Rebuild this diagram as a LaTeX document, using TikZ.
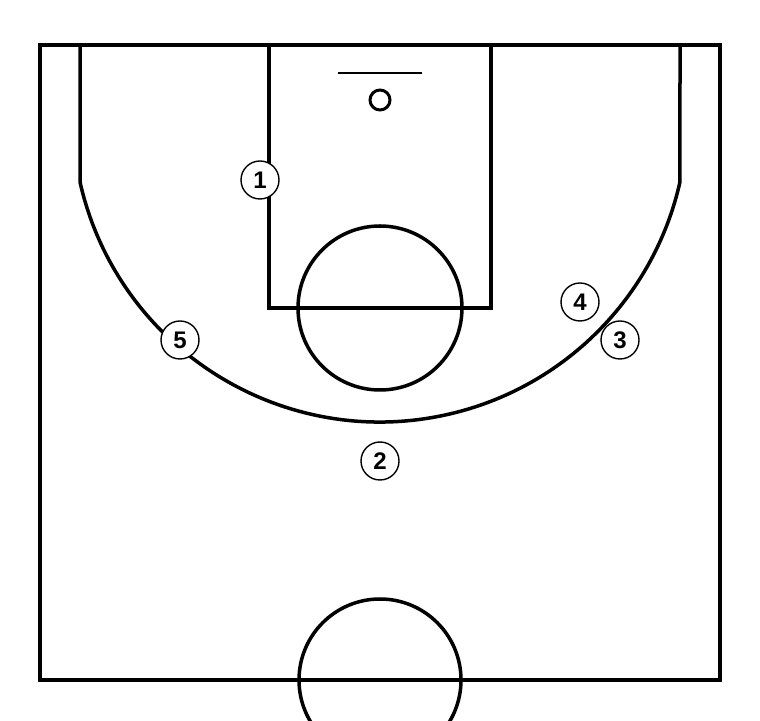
\documentclass[tikz,border=0pt]{standalone}
\usepackage{fontspec}
\setmainfont{Liberation Sans}
\usetikzlibrary{positioning}
\tikzset{
    % court lines
    linje/.style={
           line width=3.5pt,
           draw=black},
    % numbered players
    spiller/.style={
           circle,
           draw=black, line width=1.4pt,
           fill=white,
           minimum size=38pt,
           inner sep=0pt,
           font=\fontsize{24}{24}\selectfont\bfseries}
}
\begin{document}
\begin{tikzpicture}[x=1pt,y=1pt]
\useasboundingbox (0,0) rectangle (760,720);
\clip (0,0) rectangle (760,720);
% court
\draw[linje] (40,40) rectangle (720,675);
\draw[linje] (269,675) -- (269,412) -- (491,412) -- (491,675);
\draw[linje] (380,412) circle (82);
\draw[linje] (380,40) circle (81);
\draw[linje] (80,675) -- (80,538)
    arc[start angle=192.68, end angle=347.32, radius=307.5] -- (680,675);
% basket
\draw[line width=1.8pt] (338,647) -- (422,647);
\draw[line width=3pt] (380,620) circle (10);
% players
\node[spiller] (s1) at (260,540) {1};
\node[spiller] (s2) at (380,259) {2};
\node[spiller] (s3) at (620,380) {3};
\node[spiller] (s4) at (580,418) {4};
\node[spiller] (s5) at (180,380) {5};
\end{tikzpicture}
\end{document}
